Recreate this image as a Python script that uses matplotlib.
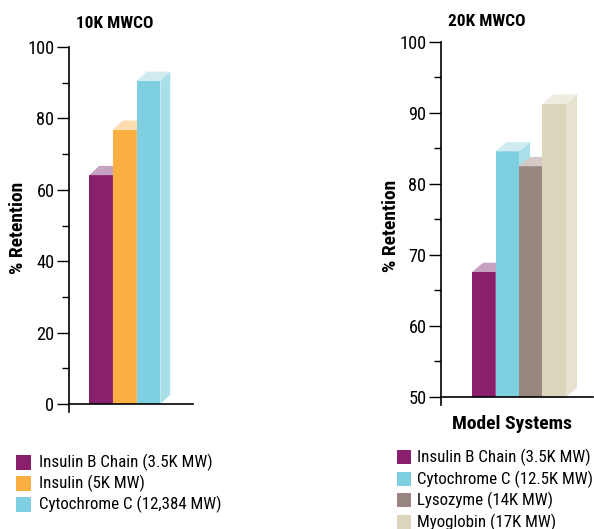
import numpy as np
import matplotlib
matplotlib.use("Agg")
import matplotlib.pyplot as plt
from matplotlib import font_manager
from matplotlib.patches import Polygon, Rectangle
from matplotlib.ticker import MultipleLocator

# 10K MWCO panel
labels_10k = ["Insulin B Chain (3.5K MW)", "Insulin (5K MW)",
              "Cytochrome C (12,384 MW)"]
retention_10k = [64.1, 76.8, 90.5]
colors_10k = ["#8a1f6e", "#fbaf40", "#7ecfe0"]
sides_10k = ["#b98aae", "#fdcf95", "#a9dfe9"]
tops_10k = ["#c6a2c2", "#fddcb0", "#d0ecf1"]

# 20K MWCO panel
labels_20k = ["Insulin B Chain (3.5K MW)", "Cytochrome C (12.5K MW)",
              "Lysozyme (14K MW)", "Myoglobin (17K MW)"]
retention_20k = [67.6, 84.6, 82.5, 91.3]
colors_20k = ["#8a1f6e", "#7ecfe0", "#97877f", "#dcd6bc"]
sides_20k = ["#b98aae", "#a9dfe9", "#b8aca6", "#e6e2cf"]
tops_20k = ["#c6a2c2", "#d0ecf1", "#d3c9c6", "#eeebe1"]

# pick a narrow sans if one is installed
installed = {f.name for f in font_manager.fontManager.ttflist}
family = "Roboto"
for cand in ["Roboto Condensed", "Liberation Sans Narrow",
             "Open Sans Condensed", "Noto Sans Condensed"]:
    if cand in installed:
        family = cand
        break
plt.rcParams['font.family'] = [family, 'DejaVu Sans']

W, H = 594, 529
fig = plt.figure(figsize=(W / 100, H / 100), dpi=100)


def px_axes(left, right, top, bottom):
    return fig.add_axes([left / W, 1 - bottom / H,
                         (right - left) / W, (bottom - top) / H])


def fit_size(s, width, size=11, **kw):
    # font size at which the string spans the measured pixel width
    t = fig.text(0, 0, s, fontsize=size, **kw)
    bb = t.get_window_extent(fig.canvas.get_renderer())
    t.remove()
    return size * width / bb.width


def put_text(x, y, s, size, **kw):
    return fig.text(x / W, 1 - y / H, s, fontsize=size, **kw)


def bars3d(ax, values, fronts, sides, tops, dx, dy, base):
    for i, (v, c, s, t) in enumerate(zip(values, fronts, sides, tops)):
        x0, x1 = i - 0.5, i + 0.5
        ax.bar(i, v - base, bottom=base, width=1.0, color=c,
               linewidth=0, zorder=2 + 3 * i)
        ax.add_patch(Polygon([(x1, base), (x1 + dx, base + dy),
                              (x1 + dx, v + dy), (x1, v)],
                             closed=True, facecolor=s, linewidth=0,
                             zorder=3 + 3 * i, clip_on=False))
        ax.add_patch(Polygon([(x0, v), (x1, v), (x1 + dx, v + dy),
                              (x0 + dx, v + dy)],
                             closed=True, facecolor=t, linewidth=0,
                             zorder=4 + 3 * i, clip_on=False))


tick_size = fit_size("100", 27)


def style_axis(ax, base, minor, ticks, lo):
    for sp in ["top", "right"]:
        ax.spines[sp].set_visible(False)
    ax.spines["bottom"].set_position(("data", base))
    ax.spines["left"].set_linewidth(1.2)
    ax.spines["bottom"].set_linewidth(1.2)
    ax.spines["bottom"].set_zorder(30)
    ax.set_xticks([])
    ax.set_yticks(ticks)
    ax.yaxis.set_minor_locator(MultipleLocator(minor))
    ax.set_ylim(lo, ticks[-1])
    ax.tick_params(axis="y", which="major", direction="out", length=9,
                   width=1.0, labelsize=tick_size, pad=1.5)
    ax.tick_params(axis="y", which="minor", direction="out", length=5,
                   width=1.0)
    ax.set_facecolor("none")


# left panel: 0 at y=404, 100 at y=47, bars 23.7 px wide
ax1 = px_axes(69, 193, 47, 412)
ax1.set_xlim(-1.35, 3.88)
bars3d(ax1, retention_10k, colors_10k, sides_10k, tops_10k, 0.42, 2.6, 0)
style_axis(ax1, 0, 10, [0, 20, 40, 60, 80, 100], -2.24)

# right panel: 50 at y=397, 100 at y=42, bars 23.5 px wide
ax2 = px_axes(441, 593, 42, 405)
ax2.set_xlim(-1.82, 4.65)
bars3d(ax2, retention_20k, colors_20k, sides_20k, tops_20k, 0.47, 1.31, 50)
style_axis(ax2, 50, 5, [50, 60, 70, 80, 90, 100], 48.87)

bold = dict(fontweight="bold", ha="center", va="center")
title_size = fit_size("10K MWCO", 77, fontweight="bold")
label_size = fit_size("% Retention", 92, fontweight="bold")
put_text(115, 23, "10K MWCO", title_size, **bold)
put_text(487, 22, "20K MWCO", title_size, **bold)
put_text(18, 228, "% Retention", label_size, rotation=90, **bold)
put_text(391, 226, "% Retention", label_size, rotation=90, **bold)
put_text(512, 424, "Model Systems", label_size, **bold)

legend_size = fit_size(labels_10k[0], 173)


def legend_rows(x_box, x_text, y_first, step, labels, colors, size):
    for k, (lab, col) in enumerate(zip(labels, colors)):
        yc = y_first + k * step
        fig.patches.append(Rectangle((x_box / W, 1 - (yc + size / 2) / H),
                                     size / W, size / H, facecolor=col,
                                     linewidth=0, transform=fig.transFigure,
                                     figure=fig))
        put_text(x_text, yc + 0.5, lab, legend_size, va="center", ha="left")


legend_rows(16, 39, 462, 21, labels_10k, colors_10k, 15)
legend_rows(397, 417, 457, 21.5, labels_20k, colors_20k, 14)

fig.savefig("out.png", dpi=100)
